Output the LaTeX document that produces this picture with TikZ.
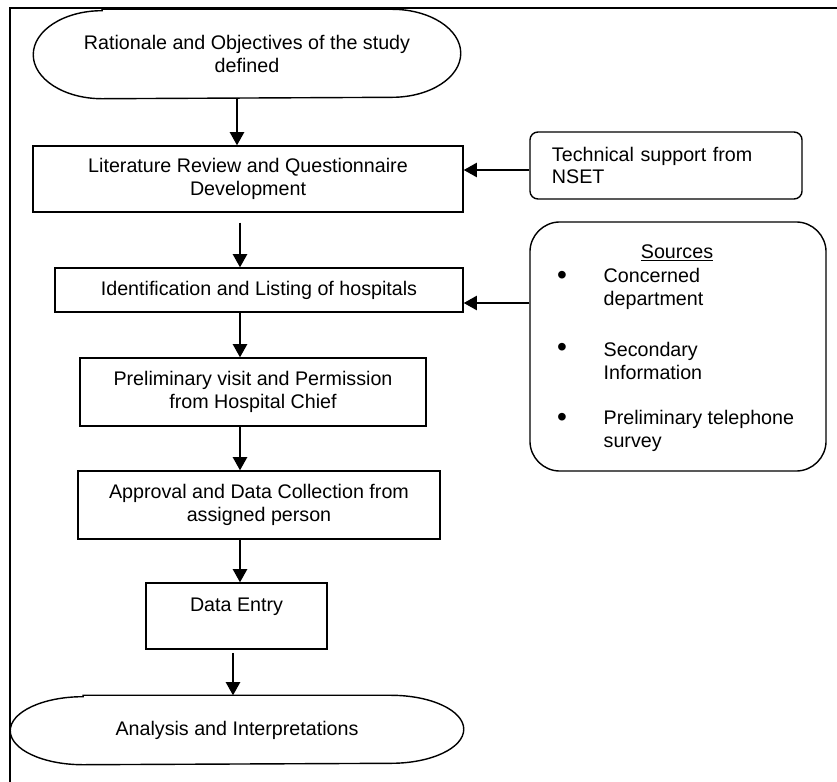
\documentclass[tikz,border=0pt]{standalone}
\usepackage{fontspec}
\setmainfont{Liberation Sans}
\usetikzlibrary{arrows.meta, calc}

% outline of a flowchart terminator round a node: name, end x radius, end y radius
\newcommand{\termoutline}[3]{%
  \draw ([xshift=#2]#1.north west) -- ([xshift=-#2]#1.north east)
    arc[start angle=90, end angle=-90, x radius=#2, y radius=#3]
    -- ([xshift=#2]#1.south west)
    arc[start angle=270, end angle=90, x radius=#2, y radius=#3] -- cycle;}

\tikzset{
  stepbox/.style={draw, align=center, inner sep=2pt},
  termbox/.style={align=center, inner sep=2pt},
  sidebox/.style={draw, align=left, inner ysep=2pt},
}

\begin{document}
\begin{tikzpicture}[x=0.025cm, y=-0.025cm, line width=1pt,
    font=\fontsize{14}{16.2}\selectfont,
    >={Triangle[length=0.33cm, width=0.36cm]}]
  \useasboundingbox (0,0) rectangle (837,782);

  % page frame
  \draw[line width=1.5pt] (837,8) -- (10,8) -- (10,782);

  % main flow
  \node[termbox, minimum width=10.65cm, minimum height=2.2cm] (start) at (247,54)
    {Rationale and Objectives of the study\\defined};
  \termoutline{start}{1.72cm}{1.1cm}
  \node[stepbox, minimum width=10.75cm, minimum height=1.65cm] (lit) at (248,179)
    {Literature Review and Questionnaire\\Development};
  \node[stepbox, minimum width=10.2cm, minimum height=1.1cm] (ident) at (259,290)
    {Identification and Listing of hospitals};
  \node[stepbox, minimum width=8.65cm, minimum height=1.7cm] (visit) at (253,392)
    {Preliminary visit and Permission\\from Hospital Chief};
  \node[stepbox, minimum width=9.05cm, minimum height=1.7cm] (collect) at (259,505)
    {Approval and Data Collection from\\assigned person};
  \node[stepbox, minimum width=4.525cm, minimum height=1.65cm] (entry) at (236.5,616)
    {Data Entry\\\mbox{}};
  \node[termbox, minimum width=11.3cm, minimum height=1.7cm] (finish) at (237,730)
    {Analysis and Interpretations};
  \termoutline{finish}{1.82cm}{0.85cm}

  % flow arrows
  \draw[->] (start.south -| 237,0) -- (lit.north -| 237,0);
  \draw[->, shorten <=0.25cm] (lit.south -| 240,0) -- (ident.north -| 240,0);
  \draw[->] (ident.south -| 240,0) -- (visit.north -| 240,0);
  \draw[->] (visit.south -| 240,0) -- (collect.north -| 240,0);
  \draw[->] (collect.south -| 240,0) -- (entry.north -| 240,0);
  \draw[->, shorten <=0.08cm] (entry.south -| 233,0) -- (finish.north -| 233,0);

  % technical support
  \node[sidebox, rounded corners=0.2cm, text width=5.7cm, inner xsep=0.55cm,
    minimum height=1.675cm] (tech) at (666,165.5) {Technical support from\\NSET};
  \draw[->] (tech.west |- 0,170) -- (lit.east |- 0,170);

  % sources
  \node[draw, rounded corners=0.75cm, minimum width=7.4cm, minimum height=6.225cm]
    (src) at (678,346.5) {};
  \node (srchead) at (677,253) {\underline{Sources}};
  \foreach \y/\txt [count=\i] in {278/{Concerned\\department},
      350/{Secondary\\Information}, 420/{Preliminary telephone\\survey}} {
    \node[font=\fontsize{20}{20}\selectfont, inner sep=0pt] (dot\i) at (562,\y) {\textbullet};
    \node[anchor=west, align=left, inner sep=0pt] (item\i) at (603,\y+11) {\txt};
  }
  \draw[->] (src.west |- 0,303) -- (ident.east |- 0,303);
\end{tikzpicture}
\end{document}
